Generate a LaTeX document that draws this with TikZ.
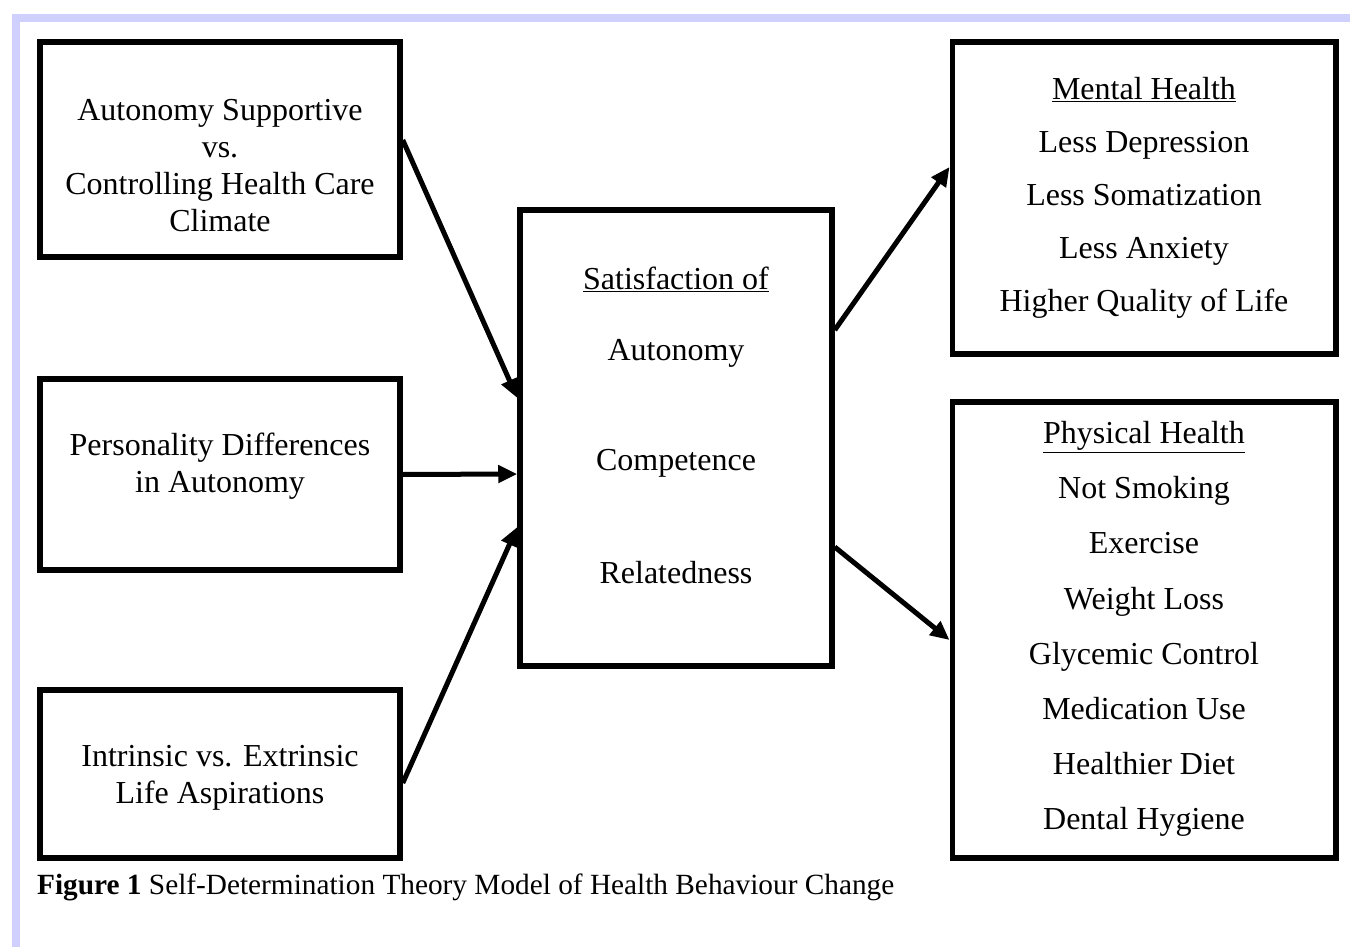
\documentclass[tikz,border=0pt]{standalone}
\usepackage{fontspec}
\setmainfont{Liberation Serif}
\usetikzlibrary{arrows.meta}
\definecolor{framelav}{RGB}{208,208,255}
\begin{document}
\begin{tikzpicture}[x=1pt,y=-1pt,
  box/.style={draw=black,line width=5.5pt,inner sep=0pt},
  txt/.style={align=center,inner sep=0pt,font=\fontsize{32}{37}\selectfont},
  arr/.style={line width=5pt,-{Triangle[length=19pt,width=17pt]}},
]
\useasboundingbox (0,0) rectangle (1350,947);
\fill[white] (0,0) rectangle (1350,947);
% lavender frame
\fill[framelav] (12,14) rectangle (1350,22);
\fill[framelav] (12,14) rectangle (20,947);

% boxes
\node[box,minimum width=360pt,minimum height=215pt] (A) at (220,149.5) {};
\node[box,minimum width=360pt,minimum height=191pt] (B) at (220,474.5) {};
\node[box,minimum width=360pt,minimum height=168pt] (C) at (220,774) {};
\node[box,minimum width=312pt,minimum height=456pt] (S) at (676,438) {};
\node[box,minimum width=383.5pt,minimum height=312pt] (M) at (1144,198) {};
\node[box,minimum width=383.5pt,minimum height=456pt] (P) at (1144,630) {};

% texts
\node[txt] (tA) at (220,166) {Autonomy Supportive\\vs.\\Controlling Health Care\\Climate};
\node[txt] (tB) at (220,466) {Personality Differences\\in Autonomy};
\node[txt] (tC) at (220,778) {Intrinsic vs. Extrinsic\\Life Aspirations};
\node[txt] (s1) at (676,279) {\underline{Satisfaction of}};
\node[txt] (s2) at (676,353) {Autonomy};
\node[txt] (s3) at (676,463) {Competence};
\node[txt] (s4) at (676,573) {Relatedness};
\node[txt,font=\fontsize{32}{53}\selectfont] (tM) at (1144,198) {\underline{Mental Health}\\Less Depression\\Less Somatization\\Less Anxiety\\Higher Quality of Life};
\node[txt,font=\fontsize{32}{55.2}\selectfont] (tP) at (1144,629) {\underline{Physical Health}\\Not Smoking\\Exercise\\Weight Loss\\Glycemic Control\\Medication Use\\Healthier Diet\\Dental Hygiene};

% arrows
\draw[arr] ([yshift=9.5pt]A.east) -- ([yshift=40pt]S.west);
\draw[arr] (B.east) -- ([yshift=-36pt]S.west);
\draw[arr] ([yshift=-9pt]C.east) -- ([yshift=-89pt]S.west);
\draw[arr] ([yshift=108pt]S.east) -- ([yshift=31pt]M.east -| M.west);
\draw[arr] ([yshift=-109pt]S.east) -- ([yshift=-10pt]P.west);

% caption
\node[anchor=base west,inner sep=0pt,font=\fontsize{29.3}{33}\selectfont] (cap) at (37,894) {\textbf{Figure 1} Self-Determination Theory Model of Health Behaviour Change};
\end{tikzpicture}
\end{document}
